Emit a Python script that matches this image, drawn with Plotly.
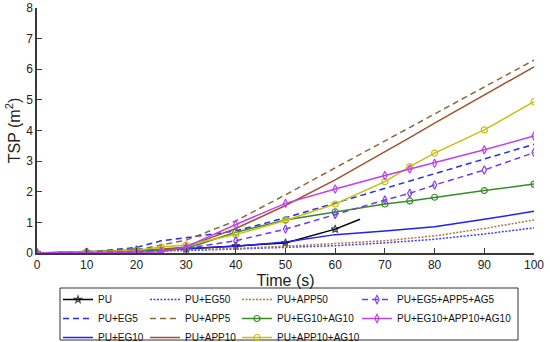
import plotly.graph_objects as go

# ---- data ----
time_s = [0, 10, 20, 25, 30, 40, 50, 60, 70, 75, 80, 90, 100]
time_pu = [0, 10, 20, 30, 40, 50, 60, 65]

tsp_pu = [0, 0.03, 0.10, 0.13, 0.23, 0.33, 0.78, 1.10]
tsp_eg50 = [0, 0.02, 0.05, 0.06, 0.08, 0.13, 0.18, 0.24, 0.33, 0.39, 0.45, 0.62, 0.82]
tsp_app50 = [0, 0.02, 0.06, 0.08, 0.10, 0.15, 0.22, 0.30, 0.40, 0.48, 0.56, 0.80, 1.08]
tsp_eg5 = [0, 0.03, 0.18, 0.40, 0.50, 0.72, 1.15, 1.63, 2.11, 2.35, 2.59, 3.07, 3.55]
tsp_app5 = [0, 0.03, 0.10, 0.25, 0.42, 1.05, 1.90, 2.78, 3.66, 4.10, 4.54, 5.42, 6.30]
tsp_eg10 = [0, 0.02, 0.08, 0.10, 0.15, 0.22, 0.36, 0.60, 0.72, 0.78, 0.86, 1.10, 1.36]
tsp_app10 = [0, 0.03, 0.08, 0.12, 0.20, 0.80, 1.55, 2.39, 3.30, 3.77, 4.24, 5.16, 6.08]
tsp_eg10_ag10 = [0, 0.03, 0.08, 0.10, 0.15, 0.68, 1.08, 1.34, 1.60, 1.70, 1.82, 2.04, 2.25]
tsp_app10_ag10 = [0, 0.03, 0.08, 0.20, 0.26, 0.60, 1.06, 1.60, 2.33, 2.82, 3.26, 4.02, 4.94]
tsp_eg5_app5_ag5 = [0, 0.02, 0.05, 0.06, 0.15, 0.40, 0.78, 1.26, 1.73, 1.95, 2.22, 2.71, 3.28]
tsp_eg10_app10_ag10 = [0, 0.02, 0.03, 0.03, 0.20, 0.93, 1.62, 2.09, 2.53, 2.74, 2.93, 3.37, 3.82]

x_ticks = [0, 10, 20, 30, 40, 50, 60, 70, 80, 90, 100]
y_ticks = [0, 1, 2, 3, 4, 5, 6, 7, 8]

FONT = "Arial, 'Liberation Sans', Helvetica, sans-serif"

fig = go.Figure()

def add(x, y, name, color, dash="solid", symbol=None, legend="legend", sizes=None, mcolor=None):
    mode = "lines+markers" if symbol else "lines"
    marker = None
    if symbol:
        marker = dict(symbol=symbol, size=sizes if sizes is not None else 6,
                      color=mcolor or color, line=dict(color=mcolor or color, width=1.2))
    fig.add_trace(go.Scatter(x=x, y=y, name=name, mode=mode,
                             line=dict(color=color, width=1.5, dash=dash),
                             marker=marker, legend=legend))

# column 1
add(time_pu, tsp_pu, "PU", "black", symbol="star-open",
    sizes=[6] * (len(time_pu) - 1) + [0], legend="legend")
add(time_s, tsp_eg5, "PU+EG5", "#2a2af0", dash="6px,4px", legend="legend")
add(time_s, tsp_eg10, "PU+EG10", "#1f1fff", legend="legend")
# column 2
add(time_s, tsp_eg50, "PU+EG50", "#4040ff", dash="2px,1.5px", legend="legend2")
add(time_s, tsp_app5, "PU+APP5", "#8a6a3c", dash="6px,4px", legend="legend2")
add(time_s, tsp_app10, "PU+APP10", "#a3522c", legend="legend2")
# column 3
add(time_s, tsp_app50, "PU+APP50", "#b0783a", dash="2px,1.5px", legend="legend3")
add(time_s, tsp_eg10_ag10, "PU+EG10+AG10", "#3a8a2a", symbol="circle-open", legend="legend3")
add(time_s, tsp_app10_ag10, "PU+APP10+AG10", "#c8bf10", symbol="circle-open", legend="legend3")
# column 4
add(time_s, tsp_eg5_app5_ag5, "PU+EG5+APP5+AG5", "#6a3cf0", dash="6px,4px",
    symbol="diamond-tall-open", legend="legend4", mcolor="#8a40e8")
add(time_s, tsp_eg10_app10_ag10, "PU+EG10+APP10+AG10", "#c040f0",
    symbol="diamond-tall-open", legend="legend4")

# plot area geometry (px)
W, H = 550, 342
L, R, T, B = 37, 16, 8, 89
pw, ph = W - L - R, H - T - B

def px2x(px):
    return (px - L) / pw

def py2y(py):
    return (H - B - py) / ph

leg_common = dict(orientation="v", xanchor="left", yanchor="top",
                  bgcolor="rgba(0,0,0,0)", borderwidth=0,
                  font=dict(family=FONT, size=10, color="#111111"),
                  itemwidth=30, tracegroupgap=0)
leg_top = 285
fig.update_layout(
    legend=dict(x=px2x(58), y=py2y(leg_top), **leg_common),
    legend2=dict(x=px2x(145), y=py2y(leg_top), **leg_common),
    legend3=dict(x=px2x(237), y=py2y(leg_top), **leg_common),
    legend4=dict(x=px2x(357), y=py2y(leg_top), **leg_common),
)

# legend frame
fig.add_shape(type="rect", xref="paper", yref="paper",
              x0=px2x(60), x1=px2x(518), y0=py2y(288), y1=py2y(340),
              line=dict(color="#333333", width=1), fillcolor="rgba(0,0,0,0)", layer="below")

axis_common = dict(showgrid=False, zeroline=False, showline=True, linecolor="#3a3a3a",
                   linewidth=1.5, ticks="inside", ticklen=5, tickcolor="#3a3a3a",
                   tickwidth=1, tickfont=dict(family=FONT, size=12, color="#222222"),
                   mirror=False, automargin=False)

fig.update_layout(
    width=W, height=H,
    margin=dict(l=L, r=R, t=T, b=B, autoexpand=False),
    paper_bgcolor="white", plot_bgcolor="white",
    font=dict(family=FONT),
    showlegend=True,
    xaxis=dict(range=[0, 100], tickvals=x_ticks, **axis_common,
               title=dict(text="Time (s)", font=dict(family=FONT, size=16, color="#222222"),
                          standoff=4)),
    yaxis=dict(range=[0, 8], tickvals=y_ticks, **axis_common,
               title=dict(text="TSP (m<sup>2</sup>)", font=dict(family=FONT, size=16, color="#222222"),
                          standoff=2)),
)

fig.write_html("out.html", config={"displayModeBar": False},
               post_script="document.body.style.margin='0';document.body.style.padding='0';")
